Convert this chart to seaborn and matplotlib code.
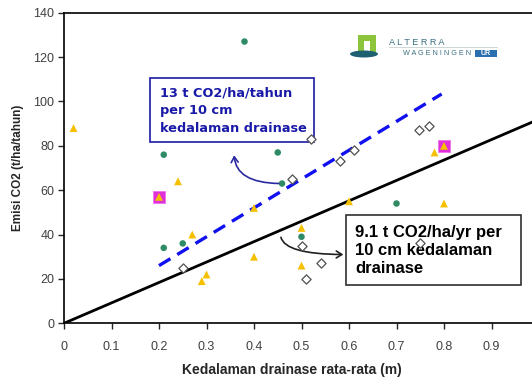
import matplotlib
matplotlib.use("Agg")
import numpy as np
import pandas as pd
import matplotlib.pyplot as plt
import seaborn as sns
from matplotlib.patches import Rectangle, Ellipse, FancyArrowPatch

# -----------------------------
# DATA
# -----------------------------
green_x = [0.38, 0.21, 0.45, 0.21, 0.25, 0.50, 0.70, 0.459]
green_y = [127, 76, 77, 34, 36, 39, 54, 63]

yellow_x = [0.02, 0.24, 0.20, 0.27, 0.40, 0.40, 0.29, 0.30, 0.50, 0.50, 0.60, 0.80, 0.78, 0.80]
yellow_y = [88, 64, 57, 40, 52, 30, 19, 22, 43, 26, 55, 54, 77, 80]

diamond_x = [0.52, 0.48, 0.58, 0.61, 0.748, 0.768, 0.25, 0.50, 0.54, 0.51, 0.75]
diamond_y = [83, 65, 73, 78, 87, 89, 25, 35, 27, 20, 36]

magenta_x = [0.20, 0.80]
magenta_y = [57, 80]

# fitted lines: slope in t CO2/ha/yr per m drainage depth
black_x = [0.0, 1.0]
black_slope = 92
blue_x = [0.20, 0.795]
blue_slope = 130

x_ticks = [0, 0.1, 0.2, 0.3, 0.4, 0.5, 0.6, 0.7, 0.8, 0.9]
x_tick_labels = ["0", "0.1", "0.2", "0.3", "0.4", "0.5", "0.6", "0.7", "0.8", "0.9"]
y_ticks = [0, 20, 40, 60, 80, 100, 120, 140]

# -----------------------------
# STYLE
# -----------------------------
sns.set_style("ticks")
plt.rcParams["font.family"] = ["Liberation Sans", "DejaVu Sans"]

W, H = 532, 380
fig = plt.figure(figsize=(W / 100, H / 100), dpi=100)
ax = fig.add_axes([64 / W, (H - 323.3) / H, 475 / W, 310.6 / H])


def px(x, y):
    return x / W, 1 - y / H


# lines
blk = pd.DataFrame({"x": black_x, "y": [black_slope * v for v in black_x]})
blu = pd.DataFrame({"x": blue_x, "y": [blue_slope * v for v in blue_x]})
sns.lineplot(data=blk, x="x", y="y", ax=ax, color="black", lw=2.0, zorder=2)
sns.lineplot(data=blu, x="x", y="y", ax=ax, color="#1010f0", lw=2.4, zorder=2)
ax.lines[-1].set_dashes((4, 2.4))

# points
sns.scatterplot(x=magenta_x, y=magenta_y, ax=ax, marker="s", s=75, color="#e030d8",
                edgecolor="#f070f0", linewidth=0.6, zorder=3)
sns.scatterplot(x=green_x, y=green_y, ax=ax, marker="o", s=22, color="#2e8b66",
                edgecolor="none", zorder=4)
sns.scatterplot(x=yellow_x, y=yellow_y, ax=ax, marker="^", s=32, color="#f5c000",
                edgecolor="none", zorder=4)
sns.scatterplot(x=diamond_x, y=diamond_y, ax=ax, marker="D", s=22, color="white",
                edgecolor="#505050", linewidth=0.9, zorder=7)

ax.set_xlim(0, 1.0)
ax.set_ylim(0, 140)
ax.set_xticks(x_ticks)
ax.set_xticklabels(x_tick_labels)
ax.set_yticks(y_ticks)
ax.tick_params(axis="both", labelsize=9, labelcolor="#404040", length=4, width=1,
               direction="out")
ax.tick_params(axis="x", pad=9)
ax.tick_params(axis="y", pad=3)
for s in ["left", "bottom", "top", "right"]:
    ax.spines[s].set_linewidth(1.2)
    ax.spines[s].set_color("black")

ax.set_xlabel("Kedalaman drainase rata-rata (m)", fontsize=10, fontweight="bold")
ax.set_ylabel("Emisi CO2 (t/ha/tahun)", fontsize=8.5, fontweight="bold")
ax.xaxis.label.set_va("center")
ax.yaxis.label.set_va("center")
ax.xaxis.set_label_coords((292 - 64) / 475, -(370 - 323.3) / 310.6)
ax.yaxis.set_label_coords(-(64 - 18) / 475, (323.3 - 168) / 310.6)

# annotation boxes
ax.add_patch(Rectangle((0.182, 81.8), 0.344, 28.6, fc="white", ec="#1a1aa8", lw=1.2,
                       zorder=5))
ax.text(0.202, 95.7, "13 t CO2/ha/tahun\nper 10 cm\nkedalaman drainase", fontsize=9.3,
        fontweight="bold", color="#1a1aa8", va="center", ha="left", linespacing=1.5,
        family="DejaVu Sans", zorder=6)
ax.add_patch(Rectangle((0.594, 17.1), 0.369, 31.7, fc="white", ec="#303030", lw=1.2,
                       zorder=5))
ax.text(0.613, 32.8, "9.1 t CO2/ha/yr per\n10 cm kedalaman\ndrainase", fontsize=12,
        fontweight="bold", color="black", va="center", ha="left", linespacing=1.22,
        zorder=6)

# arrows
a1 = FancyArrowPatch((0.458, 63), (0.358, 77), connectionstyle="angle3,angleA=0,angleB=90",
                     arrowstyle="->,head_length=4,head_width=2.5", color="#2a2aa0", lw=1.2,
                     zorder=5)
ax.add_patch(a1)
a2 = FancyArrowPatch((0.456, 40), (0.594, 31), connectionstyle="angle3,angleA=90,angleB=0",
                     arrowstyle="->,head_length=4,head_width=2.5", color="#202020", lw=1.2,
                     zorder=5)
ax.add_patch(a2)

# logo
fig.patches.append(Rectangle(px(358, 52), 18 / W, 17 / H, transform=fig.transFigure,
                             fc="#8cc43c", ec="none"))
fig.patches.append(Rectangle(px(364, 52), 6 / W, 11 / H, transform=fig.transFigure,
                             fc="white", ec="none"))
fig.patches.append(Ellipse(px(364, 54), 28 / W, 7 / H, transform=fig.transFigure,
                           fc="#1f5f72", ec="none"))
fig.lines.append(plt.Line2D([389 / W, 497 / W], [1 - 47 / H, 1 - 47 / H],
                            transform=fig.transFigure, color="#c8d0d0", lw=0.6))
fig.text(*px(389, 42.5), "A L T E R R A", fontsize=6.6, color="#3a7080", va="center")
fig.text(*px(403, 53.5), "W A G E N I N G E N", fontsize=5.2, color="#3a7080", va="center")
fig.patches.append(Rectangle(px(475, 57), 22 / W, 7 / H, transform=fig.transFigure,
                             fc="#2a70b0", ec="none"))
fig.text(*px(486, 53.5), "UR", fontsize=5, color="white", fontweight="bold",
         va="center", ha="center")

fig.savefig("out.png", dpi=100)
